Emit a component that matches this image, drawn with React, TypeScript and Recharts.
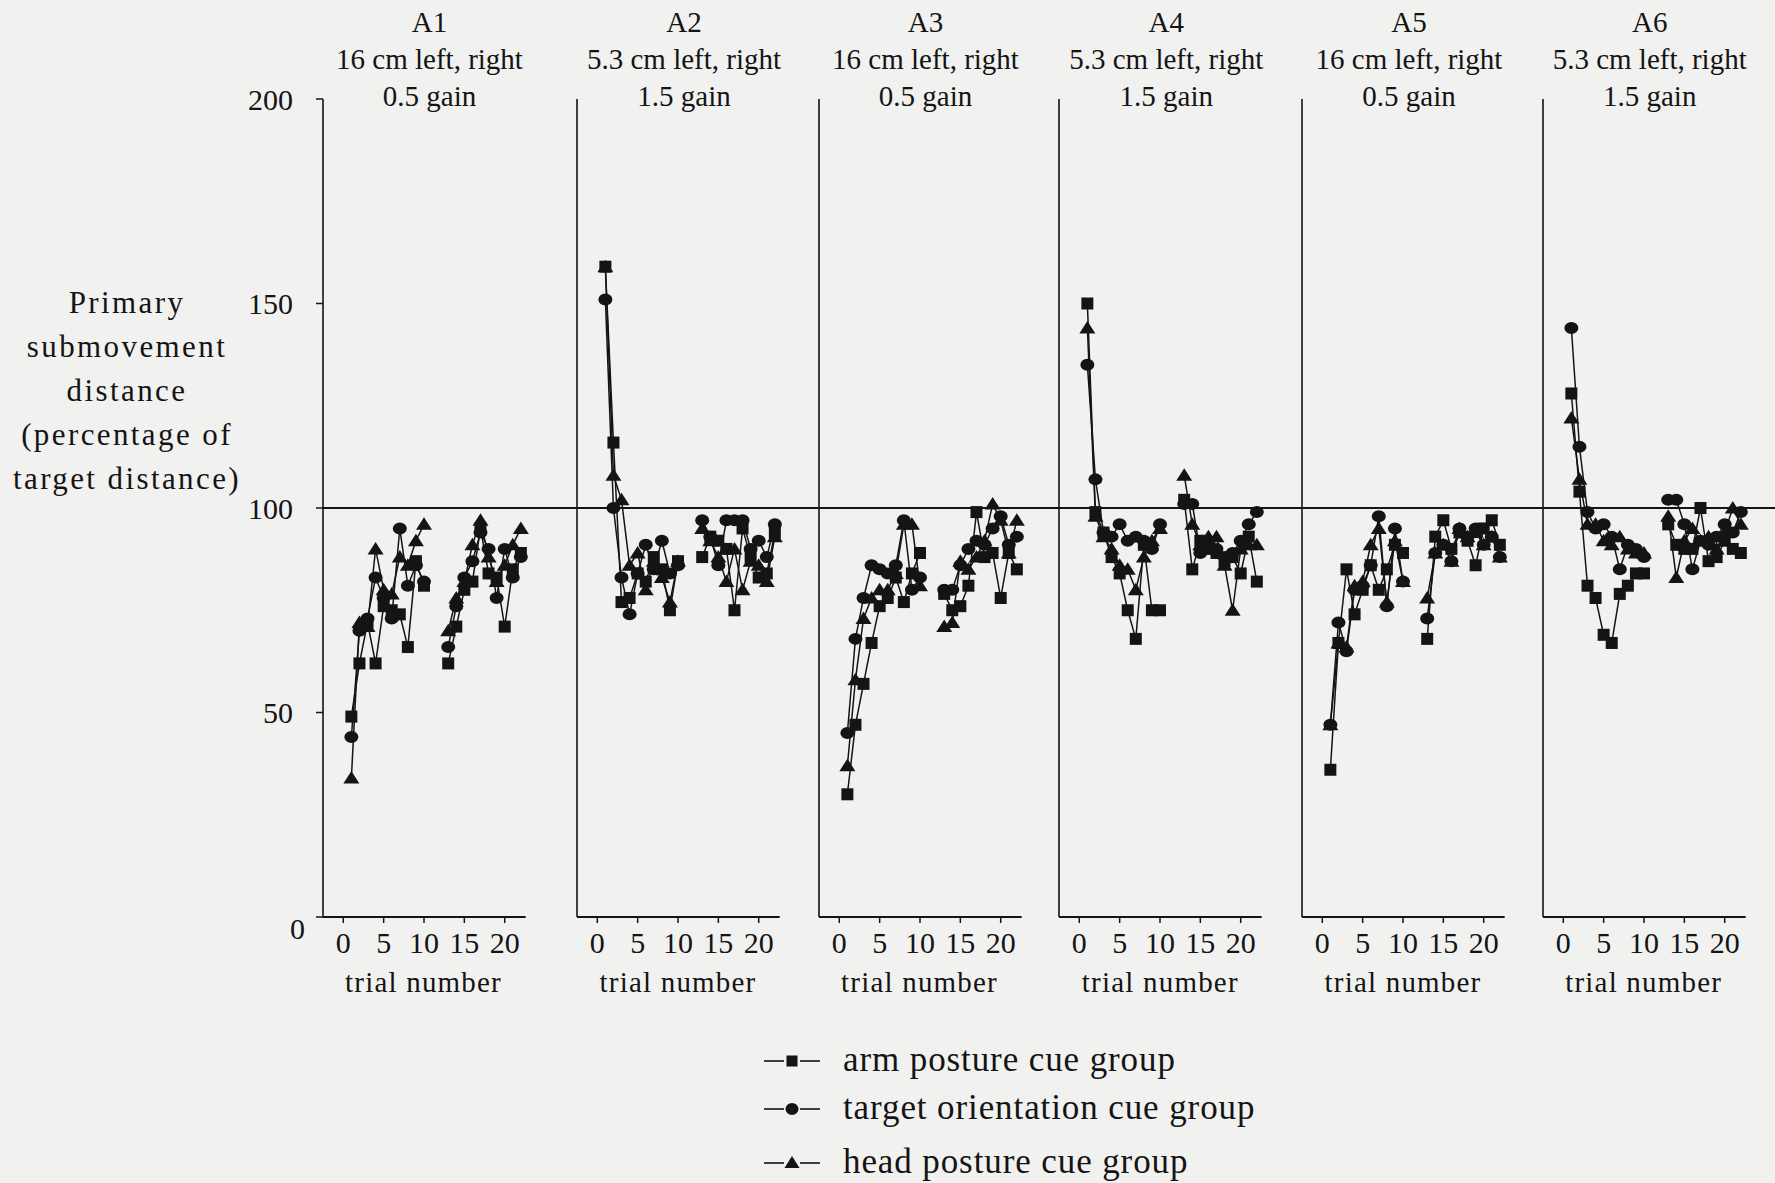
import React from 'react';
import { LineChart, Line, XAxis, YAxis, ReferenceLine } from 'recharts';

// ---------- data ----------
const TRIALS = [1, 2, 3, 4, 5, 6, 7, 8, 9, 10, 11, 12, 13, 14, 15, 16, 17, 18, 19, 20, 21, 22];
const PANEL_IDS = ['A1', 'A2', 'A3', 'A4', 'A5', 'A6'];
const PANEL_DISTANCES = ['16 cm left, right', '5.3 cm left, right', '16 cm left, right', '5.3 cm left, right', '16 cm left, right', '5.3 cm left, right'];
const PANEL_GAINS = ['0.5 gain', '1.5 gain', '0.5 gain', '1.5 gain', '0.5 gain', '1.5 gain'];
const X_TICKS = [0, 5, 10, 15, 20];
const Y_TICKS = [0, 50, 100, 150, 200];
const SERIES_NAMES = ['arm posture cue group', 'target orientation cue group', 'head posture cue group'];
const X_AXIS_LABEL = 'trial number';
const Y_AXIS_LABEL = ['Primary', 'submovement', 'distance', '(percentage of', 'target distance)'];

const A1_ARM = [49, 62, 72, 62, 76, 75, 74, 66, 87, 81, null, null, 62, 71, 80, 82, 95, 84, 83, 71, 85, 89];
const A1_TARGET = [44, 70, 73, 83, 78, 73, 95, 81, 86, 82, null, null, 66, 76, 83, 87, 94, 90, 78, 90, 83, 88];
const A1_HEAD = [34, 72, 71, 90, 80, 79, 88, 86, 92, 96, null, null, 70, 78, 82, 91, 97, 88, 82, 86, 91, 95];

const A2_ARM = [159, 116, 77, 78, 84, 82, 88, 85, 75, 87, null, null, 88, 93, 92, 90, 75, 95, 88, 83, 84, 94];
const A2_TARGET = [151, 100, 83, 74, 84, 91, 85, 92, 84, 86, null, null, 97, 93, 86, 97, 97, 97, 90, 92, 88, 96];
const A2_HEAD = [159, 108, 102, 86, 89, 80, 87, 83, 77, 87, null, null, 95, 92, 88, 82, 90, 80, 87, 86, 82, 93];

const A3_ARM = [30, 47, 57, 67, 76, 78, 83, 77, 84, 89, null, null, 79, 75, 76, 81, 99, 88, 89, 78, 89, 85];
const A3_TARGET = [45, 68, 78, 86, 85, 84, 86, 97, 80, 83, null, null, 80, 80, 86, 90, 92, 91, 95, 98, 91, 93];
const A3_HEAD = [37, 58, 73, 78, 80, 80, 84, 96, 96, 81, null, null, 71, 72, 87, 85, 88, 92, 101, 97, 89, 97];

const A4_ARM = [150, 99, 94, 88, 84, 75, 68, 91, 75, 75, null, null, 102, 85, 92, 90, 89, 87, 88, 84, 93, 82];
const A4_TARGET = [135, 107, 94, 93, 96, 92, 93, 92, 90, 96, null, null, 101, 101, 89, 91, 90, 88, 89, 92, 96, 99];
const A4_HEAD = [144, 98, 93, 90, 86, 85, 80, 88, 92, 95, null, null, 108, 96, 91, 93, 93, 86, 75, 90, 91, 91];

const A5_ARM = [36, 67, 85, 74, 80, 86, 80, 85, 91, 89, null, null, 68, 93, 97, 90, 94, 92, 86, 95, 97, 91];
const A5_TARGET = [47, 72, 65, 80, 81, 86, 98, 76, 95, 82, null, null, 73, 89, 91, 87, 95, 93, 95, 91, 93, 88];
const A5_HEAD = [47, 67, 66, 81, 82, 91, 95, 77, 92, 82, null, null, 78, 89, 91, 87, 95, 93, 94, 91, 93, 88];

const A6_ARM = [128, 104, 81, 78, 69, 67, 79, 81, 84, 84, null, null, 96, 91, 90, 90, 100, 87, 88, 92, 90, 89];
const A6_TARGET = [144, 115, 99, 95, 96, 93, 85, 91, 90, 88, null, null, 102, 102, 96, 85, 92, 91, 93, 96, 94, 99];
const A6_HEAD = [122, 107, 96, 96, 92, 91, 93, 90, 89, 89, null, null, 98, 83, 92, 95, 92, 93, 90, 94, 100, 96];

const ARM_SERIES = [A1_ARM, A2_ARM, A3_ARM, A4_ARM, A5_ARM, A6_ARM];
const TARGET_SERIES = [A1_TARGET, A2_TARGET, A3_TARGET, A4_TARGET, A5_TARGET, A6_TARGET];
const HEAD_SERIES = [A1_HEAD, A2_HEAD, A3_HEAD, A4_HEAD, A5_HEAD, A6_HEAD];

// ---------- layout ----------
const W = 1775;
const H = 1183;
const FONT = '"Liberation Serif", "Times New Roman", Times, serif';
const INK = '#141414';
const PANEL_AXIS_X = [322.5, 577, 818.5, 1059.3, 1302, 1542.7];
const PX_PER_TRIAL = 8.07;
const X_MIN = -20.3 / PX_PER_TRIAL;
const X_AXIS_END = 22.6;
const PLOT_TOP = 99;
const PLOT_BOTTOM = 917;
const CHART_H = 1010;
const X_AXIS_H = 70;
const Y_AXIS_W = 110;

const buildData = (i: number) =>
  TRIALS.map((t, k) => ({
    trial: t,
    arm: ARM_SERIES[i][k],
    target: TARGET_SERIES[i][k],
    head: HEAD_SERIES[i][k],
  }));

// ---------- markers ----------
const SquareDot = (props: any) => {
  const { cx, cy, index, value } = props;
  if (value == null || cx == null || cy == null || isNaN(cy)) return <g key={`sq-${index}`} />;
  return <rect key={`sq-${index}`} x={cx - 6} y={cy - 6} width={12} height={12} fill={INK} />;
};
const CircleDot = (props: any) => {
  const { cx, cy, index, value } = props;
  if (value == null || cx == null || cy == null || isNaN(cy)) return <g key={`ci-${index}`} />;
  return <ellipse key={`ci-${index}`} cx={cx} cy={cy} rx={7} ry={6} fill={INK} />;
};
const TriangleDot = (props: any) => {
  const { cx, cy, index, value } = props;
  if (value == null || cx == null || cy == null || isNaN(cy)) return <g key={`tr-${index}`} />;
  return <path key={`tr-${index}`} d={`M${cx},${cy - 7} L${cx + 8},${cy + 5.5} L${cx - 8},${cy + 5.5} Z`} fill={INK} />;
};

const YTick = (props: any) => {
  const { x, y, payload } = props;
  const isZero = payload.value === 0;
  return (
    <text
      x={x + (isZero ? 12 : 0)}
      y={y + (isZero ? 11 : 0)}
      textAnchor="end"
      dominantBaseline="central"
      fill={INK}
      fontSize={30}
      fontFamily={FONT}
    >
      {payload.value}
    </text>
  );
};

function Panel({ index }: { index: number }) {
  const axisX = PANEL_AXIS_X[index];
  const rightX = index < PANEL_AXIS_X.length - 1 ? PANEL_AXIS_X[index + 1] : W;
  const plotW = rightX - axisX;
  const xMax = X_MIN + plotW / PX_PER_TRIAL;
  const data = buildData(index);
  const first = index === 0;
  return (
    <div style={{ position: 'absolute', left: axisX - Y_AXIS_W, top: 0 }}>
      <LineChart
        width={Y_AXIS_W + plotW}
        height={CHART_H}
        data={data}
        margin={{ top: PLOT_TOP, right: 0, bottom: CHART_H - PLOT_BOTTOM - X_AXIS_H, left: 0 }}
      >
        <XAxis
          type="number"
          dataKey="trial"
          domain={[X_MIN, xMax]}
          allowDataOverflow
          ticks={X_TICKS}
          interval={0}
          axisLine={false}
          tickLine={{ stroke: INK, strokeWidth: 1.5 }}
          tickSize={6}
          tickMargin={9}
          height={X_AXIS_H}
          tick={{ fill: INK, fontSize: 30, fontFamily: FONT }}
        />
        <YAxis
          type="number"
          domain={[0, 200]}
          ticks={Y_TICKS}
          interval={0}
          width={Y_AXIS_W}
          axisLine={{ stroke: INK, strokeWidth: 1.6 }}
          tickLine={{ stroke: INK, strokeWidth: 1.5 }}
          tickSize={7}
          tickMargin={23}
          tick={first ? <YTick /> : false}
        />
        <ReferenceLine
          segment={[{ x: X_MIN, y: 0 }, { x: X_AXIS_END, y: 0 }]}
          stroke={INK}
          strokeWidth={1.8}
          ifOverflow="visible"
        />
        <ReferenceLine y={100} stroke={INK} strokeWidth={2.2} />
        <Line type="linear" dataKey="arm" name={SERIES_NAMES[0]} stroke={INK} strokeWidth={1.5} dot={SquareDot} activeDot={false} isAnimationActive={false} connectNulls={false} />
        <Line type="linear" dataKey="target" name={SERIES_NAMES[1]} stroke={INK} strokeWidth={1.5} dot={CircleDot} activeDot={false} isAnimationActive={false} connectNulls={false} />
        <Line type="linear" dataKey="head" name={SERIES_NAMES[2]} stroke={INK} strokeWidth={1.5} dot={TriangleDot} activeDot={false} isAnimationActive={false} connectNulls={false} />
      </LineChart>
    </div>
  );
}

const LEGEND_TOPS = [1061, 1109, 1163];
const LEGEND_MARKERS = ['square', 'circle', 'triangle'];

function LegendSymbol({ kind }: { kind: string }) {
  return (
    <svg width={60} height={24} style={{ position: 'absolute', left: 763, top: -12 }}>
      <line x1={1} y1={12} x2={21} y2={12} stroke={INK} strokeWidth={1.6} />
      <line x1={37} y1={12} x2={57} y2={12} stroke={INK} strokeWidth={1.6} />
      {kind === 'square' && <rect x={23.5} y={6.5} width={11} height={11} fill={INK} />}
      {kind === 'circle' && <ellipse cx={29} cy={12} rx={6.5} ry={6} fill={INK} />}
      {kind === 'triangle' && <path d="M29,5 L36.5,17 L21.5,17 Z" fill={INK} />}
    </svg>
  );
}

export default function App() {
  return (
    <div style={{ position: 'absolute', left: 0, top: 0, width: W, height: H, background: '#f1f1f0', overflow: 'hidden', fontFamily: FONT, color: INK }}>
      {PANEL_IDS.map((id, i) => (
        <Panel key={id} index={i} />
      ))}

      {PANEL_IDS.map((id, i) => (
        <div
          key={`title-${id}`}
          style={{ position: 'absolute', left: PANEL_AXIS_X[i] + 107 - 150, width: 300, top: 4, textAlign: 'center', fontSize: 29, lineHeight: '37px', whiteSpace: 'nowrap' }}
        >
          <div>{id}</div>
          <div>{PANEL_DISTANCES[i]}</div>
          <div>{PANEL_GAINS[i]}</div>
        </div>
      ))}

      {PANEL_IDS.map((id, i) => (
        <div
          key={`xl-${id}`}
          style={{ position: 'absolute', left: PANEL_AXIS_X[i] + 101 - 120, width: 240, top: 964, textAlign: 'center', fontSize: 29, lineHeight: '36px', letterSpacing: '1.2px', whiteSpace: 'nowrap' }}
        >
          {X_AXIS_LABEL}
        </div>
      ))}

      <div style={{ position: 'absolute', left: -5, width: 264, top: 281, textAlign: 'center', fontSize: 31, lineHeight: '44px', letterSpacing: '2.4px', whiteSpace: 'nowrap' }}>
        {Y_AXIS_LABEL.map((l) => (
          <div key={l}>{l}</div>
        ))}
      </div>

      {SERIES_NAMES.map((name, i) => (
        <div key={name} style={{ position: 'absolute', left: 0, top: LEGEND_TOPS[i], width: W, height: 0 }}>
          <LegendSymbol kind={LEGEND_MARKERS[i]} />
          <div style={{ position: 'absolute', left: 843, top: -22, fontSize: 35, lineHeight: '42px', letterSpacing: '0.9px', whiteSpace: 'nowrap' }}>{name}</div>
        </div>
      ))}
    </div>
  );
}
